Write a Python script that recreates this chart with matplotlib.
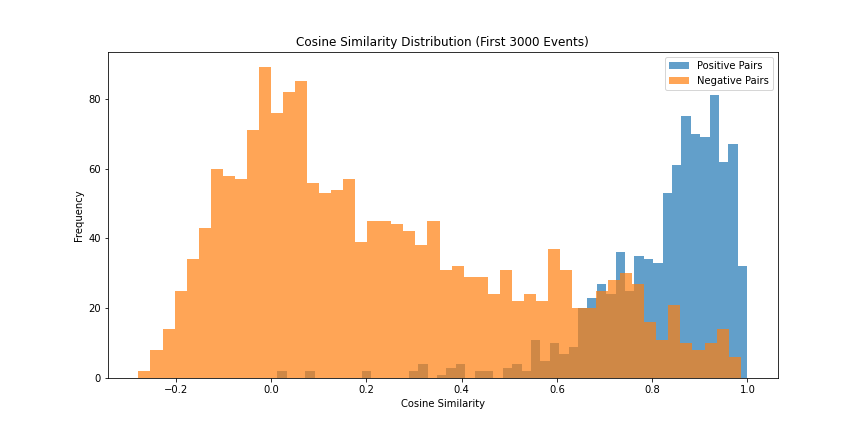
import numpy as np
import matplotlib
matplotlib.use("Agg")
import matplotlib.pyplot as plt

# counts per bin (50 bins each)
positive_counts = [2, 0, 0, 2, 0, 0, 0, 0, 0, 2,
                   0, 0, 0, 0, 2, 4, 0, 1, 3, 4,
                   0, 2, 2, 0, 3, 4, 2, 11, 5, 10,
                   7, 9, 20, 23, 27, 24, 36, 25, 35, 34,
                   33, 53, 61, 75, 70, 69, 81, 62, 67, 32]
negative_counts = [2, 8, 14, 25, 34, 43, 60, 58, 57, 71,
                   89, 76, 82, 85, 56, 53, 54, 57, 39, 45,
                   45, 44, 42, 38, 45, 31, 32, 29, 29, 24,
                   31, 22, 24, 22, 37, 31, 20, 20, 25, 28,
                   30, 27, 16, 11, 21, 10, 8, 10, 14, 6]

# min / max similarity of each group
positive_range = (0.0134, 0.9994)
negative_range = (-0.278, 0.9857)
n_bins = 50


def bin_centers(rng, n):
    edges = np.linspace(rng[0], rng[1], n + 1)
    return (edges[:-1] + edges[1:]) / 2


fig, ax = plt.subplots(figsize=(12, 6), dpi=72)
fig.subplots_adjust(left=0.125, right=0.9, bottom=0.125, top=0.88)

ax.hist(bin_centers(positive_range, n_bins), bins=n_bins, range=positive_range,
        weights=positive_counts, alpha=0.7, label='Positive Pairs')
ax.hist(bin_centers(negative_range, n_bins), bins=n_bins, range=negative_range,
        weights=negative_counts, alpha=0.7, label='Negative Pairs')

ax.set_title('Cosine Similarity Distribution (First 3000 Events)')
ax.set_xlabel('Cosine Similarity')
ax.set_ylabel('Frequency')
ax.legend()

plt.savefig('out.png', dpi=72)
